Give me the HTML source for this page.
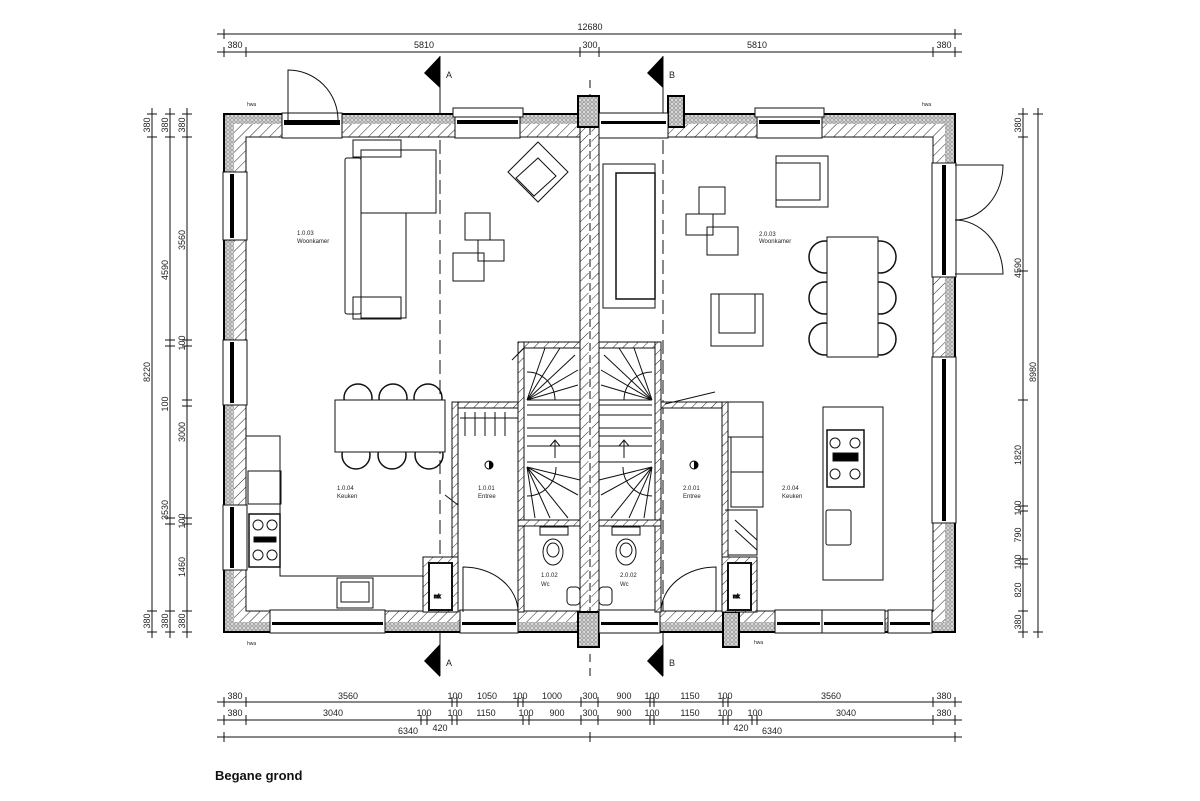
<!DOCTYPE html>
<html><head><meta charset="utf-8"><style>
html,body{margin:0;padding:0;background:#fff}
svg{display:block}
text{font-family:"Liberation Sans",sans-serif;fill:#222}
.d{font-size:9px;text-anchor:middle}
.s{font-size:6px}
</style></head><body>
<svg width="1200" height="801" viewBox="0 0 1200 801" xmlns="http://www.w3.org/2000/svg">
<defs>
<pattern id="h" width="7" height="7" patternUnits="userSpaceOnUse" patternTransform="rotate(45)">
<rect width="7" height="7" fill="#fff"/><line x1="0" y1="0" x2="0" y2="7" stroke="#222" stroke-width="1"/></pattern>
<pattern id="dt" width="4" height="4" patternUnits="userSpaceOnUse">
<rect width="4" height="4" fill="#ddd"/><circle cx="2" cy="2" r="1.3" fill="none" stroke="#777" stroke-width="0.6"/></pattern>
</defs>
<g stroke="#111" stroke-width="1" fill="none">
<line x1="217" y1="34" x2="962" y2="34"/>
<line x1="217" y1="52" x2="962" y2="52"/>
<g stroke-width="1">
<line x1="224" y1="29" x2="224" y2="39"/><line x1="955" y1="29" x2="955" y2="39"/>
<line x1="224" y1="47" x2="224" y2="57"/><line x1="246" y1="47" x2="246" y2="57"/><line x1="580" y1="47" x2="580" y2="57"/><line x1="599" y1="47" x2="599" y2="57"/><line x1="933" y1="47" x2="933" y2="57"/><line x1="955" y1="47" x2="955" y2="57"/>
</g>
<line x1="152" y1="108" x2="152" y2="638"/><line x1="170" y1="108" x2="170" y2="638"/><line x1="187" y1="108" x2="187" y2="638"/>
<g>
<path d="M147 114H157M147 137H157M147 611H157M147 632H157"/>
<path d="M165 114H175M165 137H175M165 340H175M165 346H175M165 518H175M165 524H175M165 611H175M165 632H175"/>
<path d="M182 114H192M182 137H192M182 340H192M182 346H192M182 400H192M182 406H192M182 518H192M182 524H192M182 611H192M182 632H192"/>
</g>
<line x1="1023" y1="108" x2="1023" y2="638"/><line x1="1038" y1="108" x2="1038" y2="638"/>
<path d="M1018 114H1028M1018 137H1028M1018 271H1028M1018 400H1028M1018 506H1028M1018 511H1028M1018 559H1028M1018 564H1028M1018 611H1028M1018 632H1028"/>
<path d="M1033 114H1043M1033 632H1043"/>
<line x1="217" y1="702" x2="962" y2="702"/><line x1="217" y1="720" x2="962" y2="720"/><line x1="217" y1="737" x2="962" y2="737"/>
<path d="M224 697V707M246 697V707M452 697V707M457 697V707M518 697V707M523 697V707M581 697V707M598 697V707M650 697V707M654 697V707M723 697V707M728 697V707M933 697V707M955 697V707"/>
<path d="M224 715V725M246 715V725M421 715V725M427 715V725M452 715V725M457 715V725M523 715V725M529 715V725M581 715V725M598 715V725M650 715V725M654 715V725M723 715V725M728 715V725M752 715V725M757 715V725M933 715V725M955 715V725"/>
<path d="M224 732V742M590 732V742M955 732V742"/>
</g>
<g class="d">
<text x="590" y="30">12680</text>
<text x="235" y="48">380</text><text x="424" y="48">5810</text><text x="590" y="48">300</text><text x="757" y="48">5810</text><text x="944" y="48">380</text>
<text x="235" y="699">380</text><text x="348" y="699">3560</text><text x="455" y="699">100</text><text x="487" y="699">1050</text><text x="520" y="699">100</text><text x="552" y="699">1000</text><text x="590" y="699">300</text><text x="624" y="699">900</text><text x="652" y="699">100</text><text x="690" y="699">1150</text><text x="725" y="699">100</text><text x="831" y="699">3560</text><text x="944" y="699">380</text>
<text x="235" y="716">380</text><text x="333" y="716">3040</text><text x="424" y="716">100</text><text x="455" y="716">100</text><text x="486" y="716">1150</text><text x="526" y="716">100</text><text x="557" y="716">900</text><text x="590" y="716">300</text><text x="624" y="716">900</text><text x="652" y="716">100</text><text x="690" y="716">1150</text><text x="725" y="716">100</text><text x="755" y="716">100</text><text x="846" y="716">3040</text><text x="944" y="716">380</text>
<text x="440" y="731">420</text><text x="408" y="734">6340</text><text x="741" y="731">420</text><text x="772" y="734">6340</text>
</g>
<g class="d">
<text transform="translate(150,125) rotate(-90)">380</text><text transform="translate(150,372) rotate(-90)">8220</text><text transform="translate(150,621) rotate(-90)">380</text>
<text transform="translate(168,125) rotate(-90)">380</text><text transform="translate(168,270) rotate(-90)">4590</text><text transform="translate(168,404) rotate(-90)">100</text><text transform="translate(168,510) rotate(-90)">3530</text><text transform="translate(168,621) rotate(-90)">380</text>
<text transform="translate(185,125) rotate(-90)">380</text><text transform="translate(185,240) rotate(-90)">3560</text><text transform="translate(185,343) rotate(-90)">100</text><text transform="translate(185,432) rotate(-90)">3000</text><text transform="translate(185,521) rotate(-90)">100</text><text transform="translate(185,567) rotate(-90)">1460</text><text transform="translate(185,621) rotate(-90)">380</text>
<text transform="translate(1021,125) rotate(-90)">380</text><text transform="translate(1021,268) rotate(-90)">4590</text><text transform="translate(1021,455) rotate(-90)">1820</text><text transform="translate(1021,508) rotate(-90)">100</text><text transform="translate(1021,535) rotate(-90)">790</text><text transform="translate(1021,562) rotate(-90)">100</text><text transform="translate(1021,590) rotate(-90)">820</text><text transform="translate(1021,622) rotate(-90)">380</text>
<text transform="translate(1036,372) rotate(-90)">8980</text>
</g>
<text x="215" y="780" style="font-size:13px;font-weight:bold;fill:#111">Begane grond</text>

<g stroke="#111" fill="none">
<line x1="440" y1="56" x2="440" y2="114"/><line x1="440" y1="140" x2="440" y2="612" stroke-dasharray="14,6"/><line x1="440" y1="632" x2="440" y2="676"/>
<line x1="663" y1="56" x2="663" y2="114"/><line x1="663" y1="140" x2="663" y2="612" stroke-dasharray="14,6"/><line x1="663" y1="632" x2="663" y2="676"/>
<line x1="590" y1="80" x2="590" y2="676" stroke-dasharray="8,6"/>
</g>
<path d="M440 56L424 73L440 88Z M663 56L647 73L663 88Z M440 644L424 661L440 677Z M663 644L647 661L663 677Z" fill="#000"/>
<text x="446" y="78" style="font-size:9px">A</text><text x="669" y="78" style="font-size:9px">B</text>
<text x="446" y="666" style="font-size:9px">A</text><text x="669" y="666" style="font-size:9px">B</text>

<path d="M224 114H955V632H224Z M246 137H933V611H246Z" fill="url(#h)" fill-rule="evenodd" stroke="#111"/>
<path d="M224 114H955V632H224Z M234 124H945V622H234Z" fill="url(#dt)" fill-rule="evenodd" stroke="none"/>
<rect x="224" y="114" width="731" height="518" fill="none" stroke="#000" stroke-width="2"/>
<rect x="580" y="127" width="19" height="485" fill="url(#h)" stroke="#111"/>
<line x1="590" y1="127" x2="590" y2="612" stroke="#fff" stroke-width="3"/>
<line x1="590" y1="127" x2="590" y2="612" stroke="#111" stroke-dasharray="8,4"/>
<rect x="578" y="96" width="21" height="31" fill="url(#dt)" stroke="#000" stroke-width="2"/>
<rect x="578" y="612" width="21" height="35" fill="url(#dt)" stroke="#000" stroke-width="2"/>
<rect x="668" y="96" width="16" height="31" fill="url(#dt)" stroke="#000" stroke-width="2"/>
<rect x="723" y="612" width="16" height="35" fill="url(#dt)" stroke="#000" stroke-width="2"/>

<g fill="#fff" stroke="#111">
<rect x="282" y="113" width="60" height="25"/><rect x="455" y="113" width="65" height="25"/><rect x="599" y="113" width="69" height="25"/><rect x="757" y="113" width="65" height="25"/>
<rect x="223" y="172" width="24" height="68"/><rect x="223" y="340" width="24" height="65"/><rect x="223" y="505" width="24" height="65"/>
<rect x="932" y="163" width="24" height="114"/><rect x="932" y="357" width="24" height="166"/>
<rect x="270" y="610" width="115" height="23"/><rect x="460" y="610" width="58" height="23"/><rect x="599" y="610" width="61" height="23"/><rect x="775" y="610" width="47" height="23"/><rect x="822" y="610" width="63" height="23"/><rect x="888" y="610" width="44" height="23"/>
</g>
<g fill="#000">
<rect x="284" y="120" width="56" height="5"/><rect x="457" y="120" width="61" height="4"/><rect x="601" y="121" width="65" height="3"/><rect x="759" y="120" width="61" height="4"/>
<rect x="230" y="174" width="4" height="64"/><rect x="230" y="342" width="4" height="61"/><rect x="230" y="507" width="4" height="61"/>
<rect x="942" y="165" width="4" height="110"/><rect x="942" y="359" width="4" height="162"/>
<rect x="272" y="622" width="111" height="3"/><rect x="462" y="622" width="54" height="3"/><rect x="601" y="622" width="57" height="3"/><rect x="777" y="622" width="43" height="3"/><rect x="824" y="622" width="59" height="3"/><rect x="890" y="622" width="40" height="3"/>
</g>
<rect x="453" y="108" width="70" height="9" fill="#fff" stroke="#111"/>
<rect x="755" y="108" width="69" height="9" fill="#fff" stroke="#111"/>

<g stroke="#111" fill="none">
<path d="M288 120V70 A50 50 0 0 1 338 120"/>
<path d="M955 165H1003 A48 55 0 0 1 955 220 M955 274H1003 A48 55 0 0 0 955 220"/>
<path d="M463 612V567 A55 45 0 0 1 518 612"/>
<path d="M716 612V567 A55 45 0 0 0 661 612"/>

<g fill="url(#h)">
<rect x="518" y="342" width="62" height="6"/><rect x="518" y="342" width="6" height="183"/>
<rect x="599" y="342" width="62" height="6"/><rect x="655" y="342" width="6" height="183"/>
<rect x="452" y="402" width="66" height="6"/><rect x="452" y="402" width="6" height="155"/>
<rect x="661" y="402" width="66" height="6"/><rect x="722" y="402" width="6" height="155"/>
<rect x="518" y="520" width="62" height="6"/><rect x="599" y="520" width="62" height="6"/>
<rect x="518" y="526" width="6" height="86"/><rect x="655" y="526" width="6" height="86"/>
<rect x="423" y="557" width="35" height="55"/><rect x="722" y="557" width="35" height="55"/>
</g>
<rect x="429" y="563" width="23" height="47" fill="#fff" stroke-width="2"/>
<rect x="728" y="563" width="23" height="47" fill="#fff" stroke-width="2"/>
<text x="434" y="598" style="font-size:5px">mk</text><text x="733" y="598" style="font-size:5px">mk</text>

<path d="M527 400 L545 348 M527 400 L560 348 M527 400 L575 355 M527 400 L578 370 M527 400 L578 385 M527 400H580 M527 405H580 M527 415H580 M527 428H580 M527 436H580 M527 446H580 M527 462H580"/>
<path d="M555 400 A28 28 0 0 0 527 372"/>
<path d="M527 467 L580 480 M527 467 L578 495 M527 467 L568 518 M527 467 L550 518 M527 467 L535 518"/>
<path d="M556 467 A29 29 0 0 1 527 496"/>
<path d="M555 458V440 M550 446L555 440L560 446Z"/>
<path d="M652 400 L634 348 M652 400 L619 348 M652 400 L604 355 M652 400 L601 370 M652 400 L601 385 M652 400H599 M652 405H599 M652 415H599 M652 428H599 M652 436H599 M652 446H599 M652 462H599"/>
<path d="M624 400 A28 28 0 0 1 652 372"/>
<path d="M652 467 L599 480 M652 467 L601 495 M652 467 L611 518 M652 467 L629 518 M652 467 L644 518"/>
<path d="M623 467 A29 29 0 0 0 652 496"/>
<path d="M624 458V440 M619 446L624 440L629 446Z"/>
<path d="M512 360L524 348 M715 392L665 404 M458 505L445 495 M725 510H757V555H728 M735 520L757 540 M735 530L757 550"/>
<path d="M460 418H518 M465 412V436 M475 412V436 M485 412V436 M495 412V436 M505 412V436"/>

<ellipse cx="553" cy="552" rx="10" ry="13"/><ellipse cx="553" cy="550" rx="6" ry="7"/><rect x="540" y="527" width="28" height="8"/>
<ellipse cx="626" cy="552" rx="10" ry="13"/><ellipse cx="626" cy="550" rx="6" ry="7"/><rect x="612" y="527" width="28" height="8"/>
<rect x="567" y="587" width="13" height="18" rx="4"/><rect x="599" y="587" width="13" height="18" rx="4"/>

<rect x="345" y="158" width="16" height="156" rx="2"/>
<rect x="361" y="150" width="75" height="63"/><rect x="361" y="213" width="45" height="105"/>
<rect x="353" y="140" width="48" height="17"/><rect x="353" y="297" width="48" height="22"/>
<path d="M538 142L568 172L538 202L508 172Z M538 158L556 176L534 196L516 178Z"/>
<rect x="465" y="213" width="25" height="27"/><rect x="478" y="240" width="26" height="21"/><rect x="453" y="253" width="31" height="28"/>
<circle cx="358" cy="398" r="14" stroke-width="1.5"/><circle cx="393" cy="398" r="14" stroke-width="1.5"/><circle cx="428" cy="398" r="14" stroke-width="1.5"/>
<circle cx="356" cy="455" r="14" stroke-width="1.5"/><circle cx="392" cy="455" r="14" stroke-width="1.5"/><circle cx="429" cy="455" r="14" stroke-width="1.5"/>
<rect x="335" y="400" width="110" height="52" fill="#fff"/>
<path d="M246 436H280V576H423"/><rect x="248" y="471" width="33" height="33"/>
<rect x="249" y="514" width="31" height="53" stroke-width="1.5"/>
<circle cx="258" cy="525" r="5"/><circle cx="272" cy="525" r="5"/><circle cx="258" cy="555" r="5"/><circle cx="272" cy="555" r="5"/>
<rect x="254" y="537" width="22" height="5" fill="#000"/>
<rect x="337" y="578" width="36" height="30"/><rect x="341" y="582" width="28" height="20"/>
<rect x="603" y="164" width="52" height="144"/><rect x="616" y="173" width="39" height="126" stroke-width="1.5"/>
<rect x="776" y="156" width="52" height="51"/><rect x="776" y="163" width="44" height="37"/>
<rect x="699" y="187" width="26" height="27"/><rect x="686" y="214" width="27" height="21"/><rect x="707" y="227" width="31" height="28"/>
<rect x="711" y="294" width="52" height="52"/><rect x="719" y="294" width="36" height="39"/>
<circle cx="825" cy="257" r="16" stroke-width="1.5"/><circle cx="825" cy="298" r="16" stroke-width="1.5"/><circle cx="825" cy="339" r="16" stroke-width="1.5"/>
<circle cx="880" cy="257" r="16" stroke-width="1.5"/><circle cx="880" cy="298" r="16" stroke-width="1.5"/><circle cx="880" cy="339" r="16" stroke-width="1.5"/>
<rect x="827" y="237" width="51" height="120" fill="#fff"/>
<rect x="728" y="402" width="35" height="35"/><rect x="731" y="437" width="32" height="35"/><rect x="731" y="472" width="32" height="35"/>
<rect x="823" y="407" width="60" height="173"/>
<rect x="827" y="430" width="37" height="57" stroke-width="1.5"/>
<circle cx="835" cy="443" r="5"/><circle cx="855" cy="443" r="5"/><circle cx="835" cy="474" r="5"/><circle cx="855" cy="474" r="5"/>
<rect x="833" y="453" width="25" height="8" fill="#000"/>
<rect x="826" y="510" width="25" height="35" rx="2"/>
</g>
<circle cx="489" cy="465" r="4" fill="#fff" stroke="#000"/><path d="M489 461A4 4 0 0 1 489 469Z" fill="#000"/>
<circle cx="694" cy="465" r="4" fill="#fff" stroke="#000"/><path d="M694 461A4 4 0 0 1 694 469Z" fill="#000"/>

<g class="s">
<text x="297" y="235">1.0.03</text><text x="297" y="243">Woonkamer</text>
<text x="337" y="490">1.0.04</text><text x="337" y="498">Keuken</text>
<text x="478" y="490">1.0.01</text><text x="478" y="498">Entree</text>
<text x="541" y="577">1.0.02</text><text x="541" y="586">Wc</text>
<text x="620" y="577">2.0.02</text><text x="620" y="586">Wc</text>
<text x="683" y="490">2.0.01</text><text x="683" y="498">Entree</text>
<text x="782" y="490">2.0.04</text><text x="782" y="498">Keuken</text>
<text x="759" y="236">2.0.03</text><text x="759" y="243">Woonkamer</text>
<text x="247" y="106" style="font-size:5px">hwa</text><text x="922" y="106" style="font-size:5px">hwa</text>
<text x="247" y="645" style="font-size:5px">hwa</text><text x="754" y="644" style="font-size:5px">hwa</text>
</g>
</svg>
</body></html>
